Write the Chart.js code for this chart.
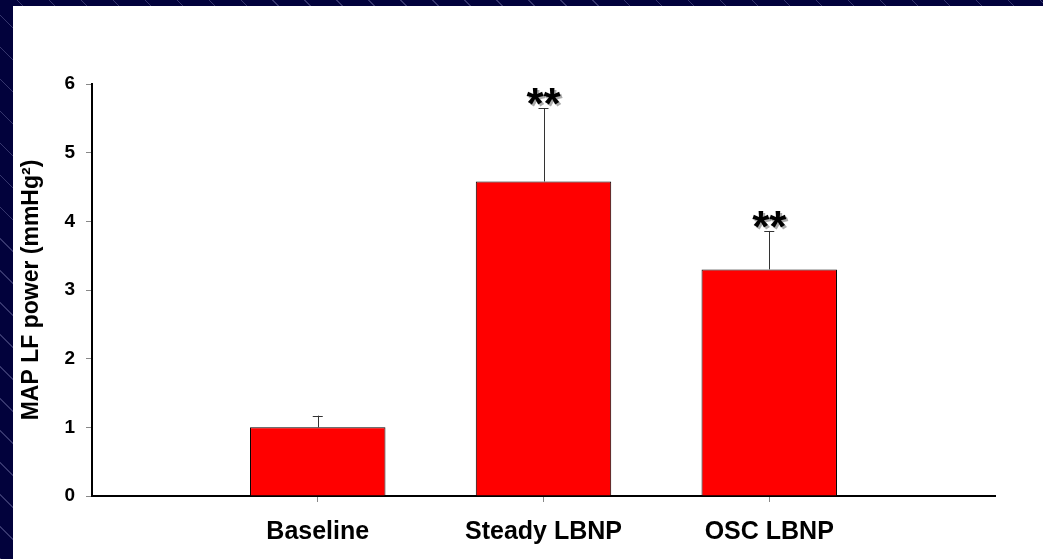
<!DOCTYPE html>
<html>
<head>
<meta charset="utf-8">
<script src="https://cdn.jsdelivr.net/npm/chart.js@4"></script>
<style>
  html, body { margin: 0; padding: 0; }
  body {
    width: 1043px; height: 559px; overflow: hidden; position: relative;
    background-color: #02023c;
    background-image: repeating-linear-gradient(45deg, rgba(150,150,200,0.35) 0px, rgba(150,150,200,0.35) 1px, transparent 1px, transparent 22.6px);
  }
  #box { position: absolute; left: 13px; top: 6px; width: 1030px; height: 553px; background: #fff; }
</style>
</head>
<body>
<div id="box"><canvas id="myChart" width="1030" height="553"></canvas></div>
<script>
var categories = ["Baseline", "Steady LBNP", "OSC LBNP"];
var means = [1.0, 4.58, 3.3];
var errors = [0.17, 1.07, 0.56];
var marks = ["", "**", "**"];
var yTicks = [0, 1, 2, 3, 4, 5, 6];

// empty slot at each end so bars sit at 1, 2, 3 of 0..4
var labels = [""].concat(categories, [""]);
var values = [null].concat(means, [null]);
var errs = [null].concat(errors, [null]);
var stars = [""].concat(marks, [""]);

var FONT = "'Liberation Sans', Arial, sans-serif";

var errorBars = {
  id: "errorBars",
  afterDatasetsDraw: function (chart) {
    var ctx = chart.ctx;
    var y = chart.scales.y;
    var meta = chart.getDatasetMeta(0);
    ctx.save();
    for (var i = 0; i < values.length; i++) {
      if (values[i] == null) continue;
      var x = meta.data[i].x;
      var yBar = y.getPixelForValue(values[i]);
      var yTop = y.getPixelForValue(values[i] + errs[i]);
      ctx.strokeStyle = "#333";
      ctx.lineWidth = 1;
      ctx.beginPath();
      ctx.moveTo(Math.round(x) + 0.5, yBar);
      ctx.lineTo(Math.round(x) + 0.5, yTop);
      ctx.moveTo(x - 5, Math.round(yTop) + 0.5);
      ctx.lineTo(x + 5, Math.round(yTop) + 0.5);
      ctx.stroke();
      if (stars[i]) {
        var size = 44;
        ctx.font = "bold " + size + "px " + FONT;
        ctx.textAlign = "center";
        ctx.textBaseline = "alphabetic";
        var by = yTop - 2 + size * 0.29;
        ctx.fillStyle = "#aaa";
        ctx.fillText(stars[i], x + 2, by + 2);
        ctx.fillStyle = "#000";
        ctx.fillText(stars[i], x, by);
      }
    }
    ctx.restore();
  }
};

var ctx = document.getElementById("myChart").getContext("2d");
var myChart = new Chart(ctx, {
  type: "bar",
  data: {
    labels: labels,
    datasets: [{
      data: values,
      backgroundColor: "#ff0000",
      borderColor: "#000",
      borderWidth: 1,
      barPercentage: 0.6,
      categoryPercentage: 1.0
    }]
  },
  options: {
    responsive: false,
    animation: false,
    maintainAspectRatio: false,
    layout: { padding: { top: 78, right: 48, left: 0, bottom: 0 } },
    plugins: { legend: { display: false }, tooltip: { enabled: false } },
    scales: {
      x: {
        offset: false,
        afterFit: function (s) { s.height = 63; },
        grid: {
          offset: false,
          drawOnChartArea: false,
          drawTicks: true,
          tickLength: 6,
          color: function (c) { return labels[c.index] ? "#888" : "rgba(0,0,0,0)"; }
        },
        border: { color: "#000", width: 2 },
        ticks: {
          color: "#000",
          padding: 15,
          maxRotation: 0,
          autoSkip: false,
          font: { family: FONT, size: 25, weight: "bold" }
        }
      },
      y: {
        min: 0,
        max: 6,
        afterFit: function (s) { s.width = 79; },
        afterBuildTicks: function (s) { s.ticks = yTicks.map(function (v) { return { value: v }; }); },
        grid: { drawOnChartArea: false, drawTicks: true, tickLength: 6, color: "#888" },
        border: { color: "#000", width: 2 },
        ticks: {
          color: "#000",
          padding: 11,
          font: { family: FONT, size: 19, weight: "bold" }
        },
        title: {
          display: true,
          text: "MAP LF power (mmHg²)",
          color: "#000",
          padding: { top: 5, bottom: 0 },
          font: { family: FONT, size: 23, weight: "bold" }
        }
      }
    }
  },
  plugins: [errorBars]
});
</script>
</body>
</html>
